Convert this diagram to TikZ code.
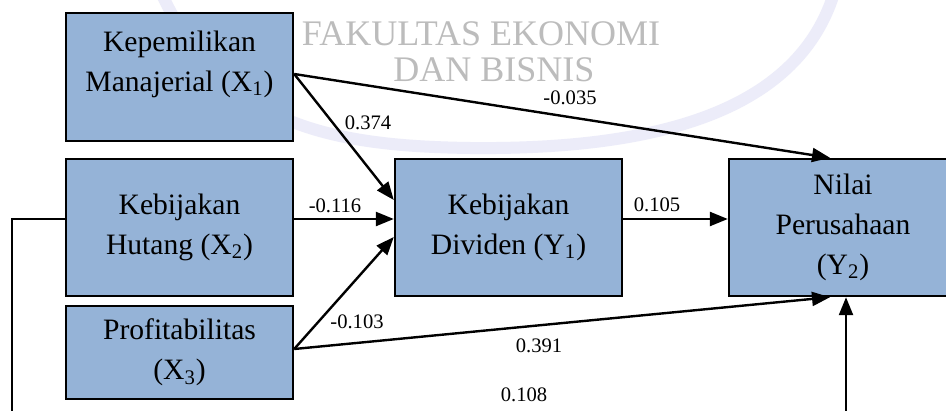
\documentclass[tikz,border=0pt]{standalone}
\usepackage{fontspec}
\setmainfont{Liberation Serif}
\usetikzlibrary{arrows.meta}
\definecolor{boxblue}{RGB}{149,179,215}
\definecolor{wmgray}{RGB}{188,188,188}
\definecolor{wmband}{RGB}{236,236,249}
\tikzset{
  box/.style={draw=black, line width=1.2pt, fill=boxblue, inner sep=0pt,
              minimum width=113.5pt, align=center,
              font=\fontsize{14.8}{20}\selectfont},
  boxtext/.style={align=center, inner sep=0pt, font=\fontsize{14.8}{20}\selectfont},
  lbl/.style={inner sep=0pt, font=\fontsize{10.3}{12}\selectfont},
  wm/.style={inner sep=0pt, text=wmgray, font=\fontsize{18}{20}\selectfont},
  conn/.style={draw=black, line width=1.2pt, -{Triangle[length=9pt,width=7pt]}},
}
\begin{document}
\begin{tikzpicture}[x=0.5pt, y=-0.5pt]
\useasboundingbox (0,0) rectangle (946,411);
\fill[white] (0,0) rectangle (946,411);
% watermark
\draw[wmband, line width=6pt, line cap=round]
  (835,-10) .. controls (800,110) and (660,150) .. (470,148)
  .. controls (330,146) and (220,125) .. (160,-10);
\node[wm] (wm1) at (481,34) {FAKULTAS EKONOMI};
\node[wm] (wm2) at (494,70) {DAN BISNIS};
% boxes
\node[box, minimum height=64pt] (x1) at (179.5,77) {};
\node[boxtext] (x1t) at (179.5,64) {Kepemilikan\\Manajerial (X\textsubscript{1})};
\node[box, minimum height=68.5pt] (x2) at (179.5,227.5) {Kebijakan\\Hutang (X\textsubscript{2})};
\node[box, minimum height=46.5pt] (x3) at (179.5,352.5) {Profitabilitas\\(X\textsubscript{3})};
\node[box, minimum height=68.5pt] (y1) at (508.5,227.5) {Kebijakan\\Dividen (Y\textsubscript{1})};
\node[box, minimum height=68.5pt, minimum width=114pt] (y2) at (843,227.5) {Nilai\\Perusahaan\\(Y\textsubscript{2})};
% connectors
\draw[conn] ([yshift=1.5pt]x1.east) -- ([yshift=13.75pt]y1.west);
\draw[conn] ([yshift=1.5pt]x1.east) -- ([xshift=-6.5pt]y2.north);
\draw[conn] ([yshift=4.25pt]x2.east) -- ([yshift=4.25pt]y1.west);
\draw[conn] ([yshift=1.75pt]x3.east) -- ([yshift=-4.75pt]y1.west);
\draw[conn] ([yshift=1.75pt]x3.east) -- ([xshift=-6.5pt]y2.south);
\draw[conn] ([yshift=4.25pt]y1.east) -- ([yshift=4.25pt]y2.west);
\coordinate (fbL) at (12,425);
\coordinate (fbR) at (846,425);
\draw[conn] ([yshift=4.25pt]x2.west) -| (fbL) -- (fbR) -- ([xshift=1.5pt]y2.south);
% labels
\node[lbl] (l1) at (368,123) {0.374};
\node[lbl] (l2) at (570,98) {-0.035};
\node[lbl] (l3) at (335,206) {-0.116};
\node[lbl] (l4) at (657,205) {0.105};
\node[lbl] (l5) at (357,322) {-0.103};
\node[lbl] (l6) at (539,346) {0.391};
\node[lbl] (l7) at (524,395) {0.108};
\end{tikzpicture}
\end{document}
